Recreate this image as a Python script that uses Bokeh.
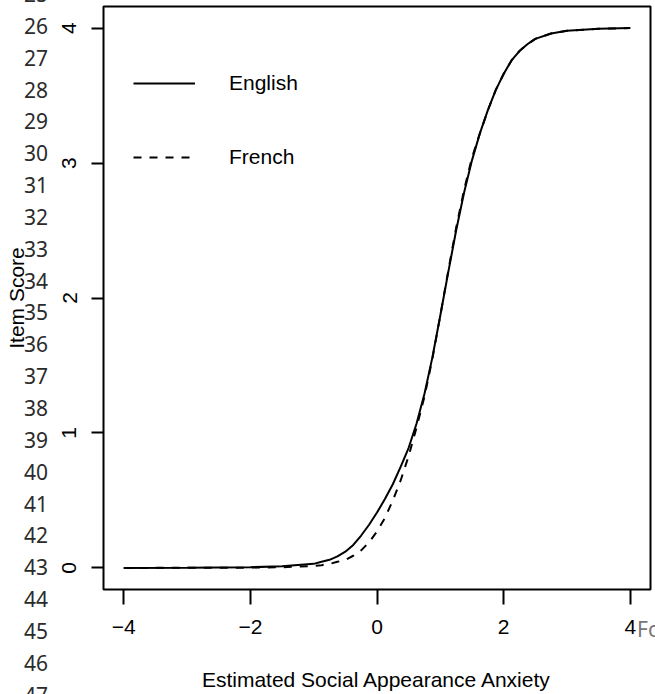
from bokeh.plotting import figure
from bokeh.models import Range1d, FixedTicker, Legend, LegendItem, Div
from bokeh.layouts import column
from bokeh.embed import file_html
from bokeh.resources import INLINE

# ---- data ----
theta = [-4, -3, -2, -1.5, -1, -0.875, -0.75, -0.625, -0.5, -0.375, -0.25, -0.125,
         0, 0.125, 0.25, 0.375, 0.5, 0.625, 0.75, 0.875, 1, 1.125, 1.25, 1.375,
         1.5, 1.625, 1.75, 1.875, 2, 2.125, 2.25, 2.375, 2.5, 2.75, 3, 3.5, 4]
english = [0, 0.001, 0.005, 0.012, 0.03, 0.045, 0.06, 0.085, 0.12, 0.17, 0.24, 0.32,
           0.41, 0.51, 0.62, 0.75, 0.89, 1.07, 1.29, 1.56, 1.87, 2.19, 2.50, 2.78,
           3.02, 3.22, 3.39, 3.54, 3.66, 3.76, 3.83, 3.88, 3.92, 3.96, 3.98, 3.995, 4.0]
french = [0, 0.0005, 0.002, 0.005, 0.015, 0.02, 0.03, 0.045, 0.06, 0.09, 0.13, 0.19,
          0.27, 0.37, 0.50, 0.65, 0.83, 1.04, 1.27, 1.55, 1.87, 2.20, 2.52, 2.80,
          3.04, 3.22, 3.39, 3.54, 3.66, 3.76, 3.83, 3.88, 3.92, 3.96, 3.98, 3.995, 4.0]
x_ticks = [-4, -2, 0, 2, 4]
x_tick_labels = ["\u22124", "\u22122", "0", "2", "4"]
y_ticks = [0, 1, 2, 3, 4]
x_title = "Estimated Social Appearance Anxiety"
y_title = "Item Score"
series_names = ["English", "French"]
gutter_numbers = [str(n) for n in range(25, 48)]
stray_text = "Fo"

FONT = "Liberation Sans"
FS = "21px"

p = figure(width=655, height=694, output_backend="svg", toolbar_location=None,
           x_range=Range1d(-4.32, 4.32), y_range=Range1d(-0.16, 4.16),
           min_border_left=103, min_border_right=5, min_border_top=6,
           min_border_bottom=105)
p.xgrid.visible = False
p.ygrid.visible = False
p.outline_line_color = "black"
p.outline_line_width = 2
p.background_fill_color = "white"
p.border_fill_color = "white"

r_en = p.line(theta, english, line_color="black", line_width=2)
r_fr = p.line(theta, french, line_color="black", line_width=2, line_dash="8 8")

for ax in (p.xaxis[0], p.yaxis[0]):
    ax.axis_line_color = None
    ax.major_tick_line_color = "black"
    ax.major_tick_line_width = 2
    ax.major_tick_in = 0
    ax.minor_tick_line_color = None
    ax.major_label_text_font = FONT
    ax.major_label_text_font_size = FS
    ax.major_label_text_color = "black"
    ax.axis_label_text_font = FONT
    ax.axis_label_text_font_size = FS
    ax.axis_label_text_font_style = "normal"
    ax.axis_label_text_color = "black"

xa = p.xaxis[0]
xa.ticker = FixedTicker(ticks=x_ticks)
xa.major_label_overrides = dict(zip(x_ticks, x_tick_labels))
xa.major_tick_out = 15
xa.major_label_standoff = 15
xa.axis_label = x_title
xa.axis_label_standoff = 31

ya = p.yaxis[0]
ya.ticker = FixedTicker(ticks=y_ticks)
ya.major_tick_out = 12
ya.major_label_orientation = "vertical"
ya.major_label_standoff = 15
ya.axis_label = y_title
ya.axis_label_standoff = 32

legend = Legend(items=[LegendItem(label=series_names[0], renderers=[r_en]),
                       LegendItem(label=series_names[1], renderers=[r_fr])],
                location=(30, 420), border_line_color=None,
                background_fill_alpha=0, padding=0, margin=0,
                glyph_width=62, glyph_height=20, label_height=20,
                label_standoff=34, spacing=50,
                label_text_font=FONT, label_text_font_size=FS,
                label_text_color="black")
p.add_layout(legend)

# line-number gutter and stray text that overlay the reference picture
gutter_html = (
    '<div style="position:absolute; left:-5px; top:-26px; width:48px; text-align:right;'
    ' font-family:\'Noto Sans\'; font-size:21px; line-height:31.85px; color:#2b2b2b;">'
    + "<br>".join(gutter_numbers) + '</div>'
    '<div style="position:absolute; left:632px; top:610px; font-family:\'Noto Sans\';'
    ' font-size:21px; line-height:28px; color:#777777; white-space:nowrap;">'
    + stray_text + '</div>'
)
overlay = Div(text=gutter_html, width=655, height=694,
              stylesheets=[":host { position: absolute !important; left: 0px !important;"
                           " top: 0px !important; pointer-events: none;"
                           " overflow: visible !important; z-index: 10; }"])

layout = column(p, overlay)
open("out.html", "w").write(file_html(layout, INLINE))
